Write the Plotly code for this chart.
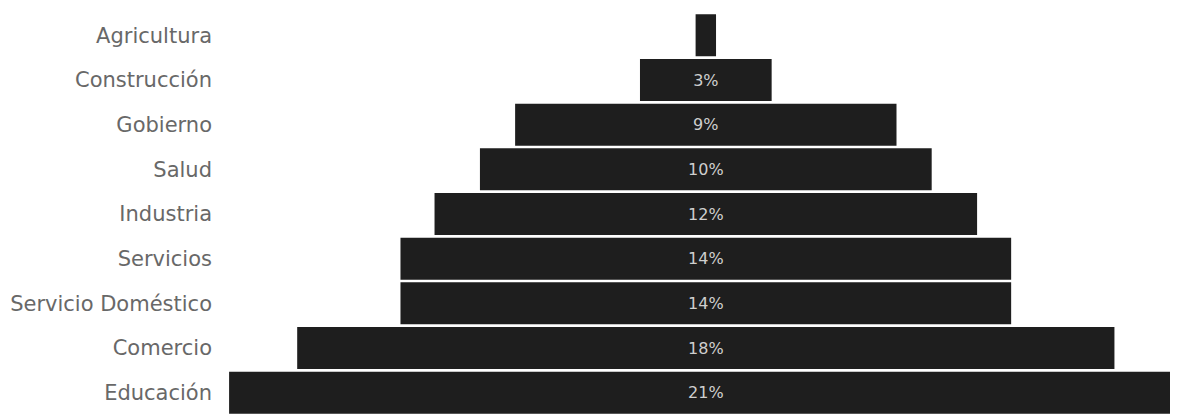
import plotly.graph_objects as go

# Sectores (de arriba a abajo) y su peso relativo
sectores = ["Agricultura", "Construcción", "Gobierno", "Salud", "Industria",
            "Servicios", "Servicio Doméstico", "Comercio", "Educación"]
valores = [0.45, 2.9, 8.4, 9.95, 11.95, 13.45, 13.45, 18.0, 21.0]
etiquetas = ["", "3%", "9%", "10%", "12%", "14%", "14%", "18%", "21%"]

fig = go.Figure(go.Funnel(
    y=sectores,
    x=valores,
    text=etiquetas,
    texttemplate="%{text}",
    textposition="inside",
    insidetextanchor="middle",
    constraintext="none",
    textfont=dict(color="#cfcfcf", size=16, family="DejaVu Sans"),
    marker=dict(color="#1e1e1e", line=dict(width=0)),
    connector=dict(visible=False),
    hoverinfo="y+text",
))

# la página añade ~8 px de margen al cuerpo; se compensa aquí
fig.update_layout(
    width=1170, height=407,
    paper_bgcolor="white", plot_bgcolor="white",
    margin=dict(l=217, r=0, t=5, b=0),
    showlegend=False,
    funnelgap=0.06,
    xaxis=dict(visible=False, range=[-10.59, 10.4]),
    yaxis=dict(
        showgrid=False, zeroline=False, showline=False, ticks="",
        tickfont=dict(color="#686868", size=21, family="DejaVu Sans"),
        ticklabelstandoff=12,
    ),
)

fig.write_html("out.html")
